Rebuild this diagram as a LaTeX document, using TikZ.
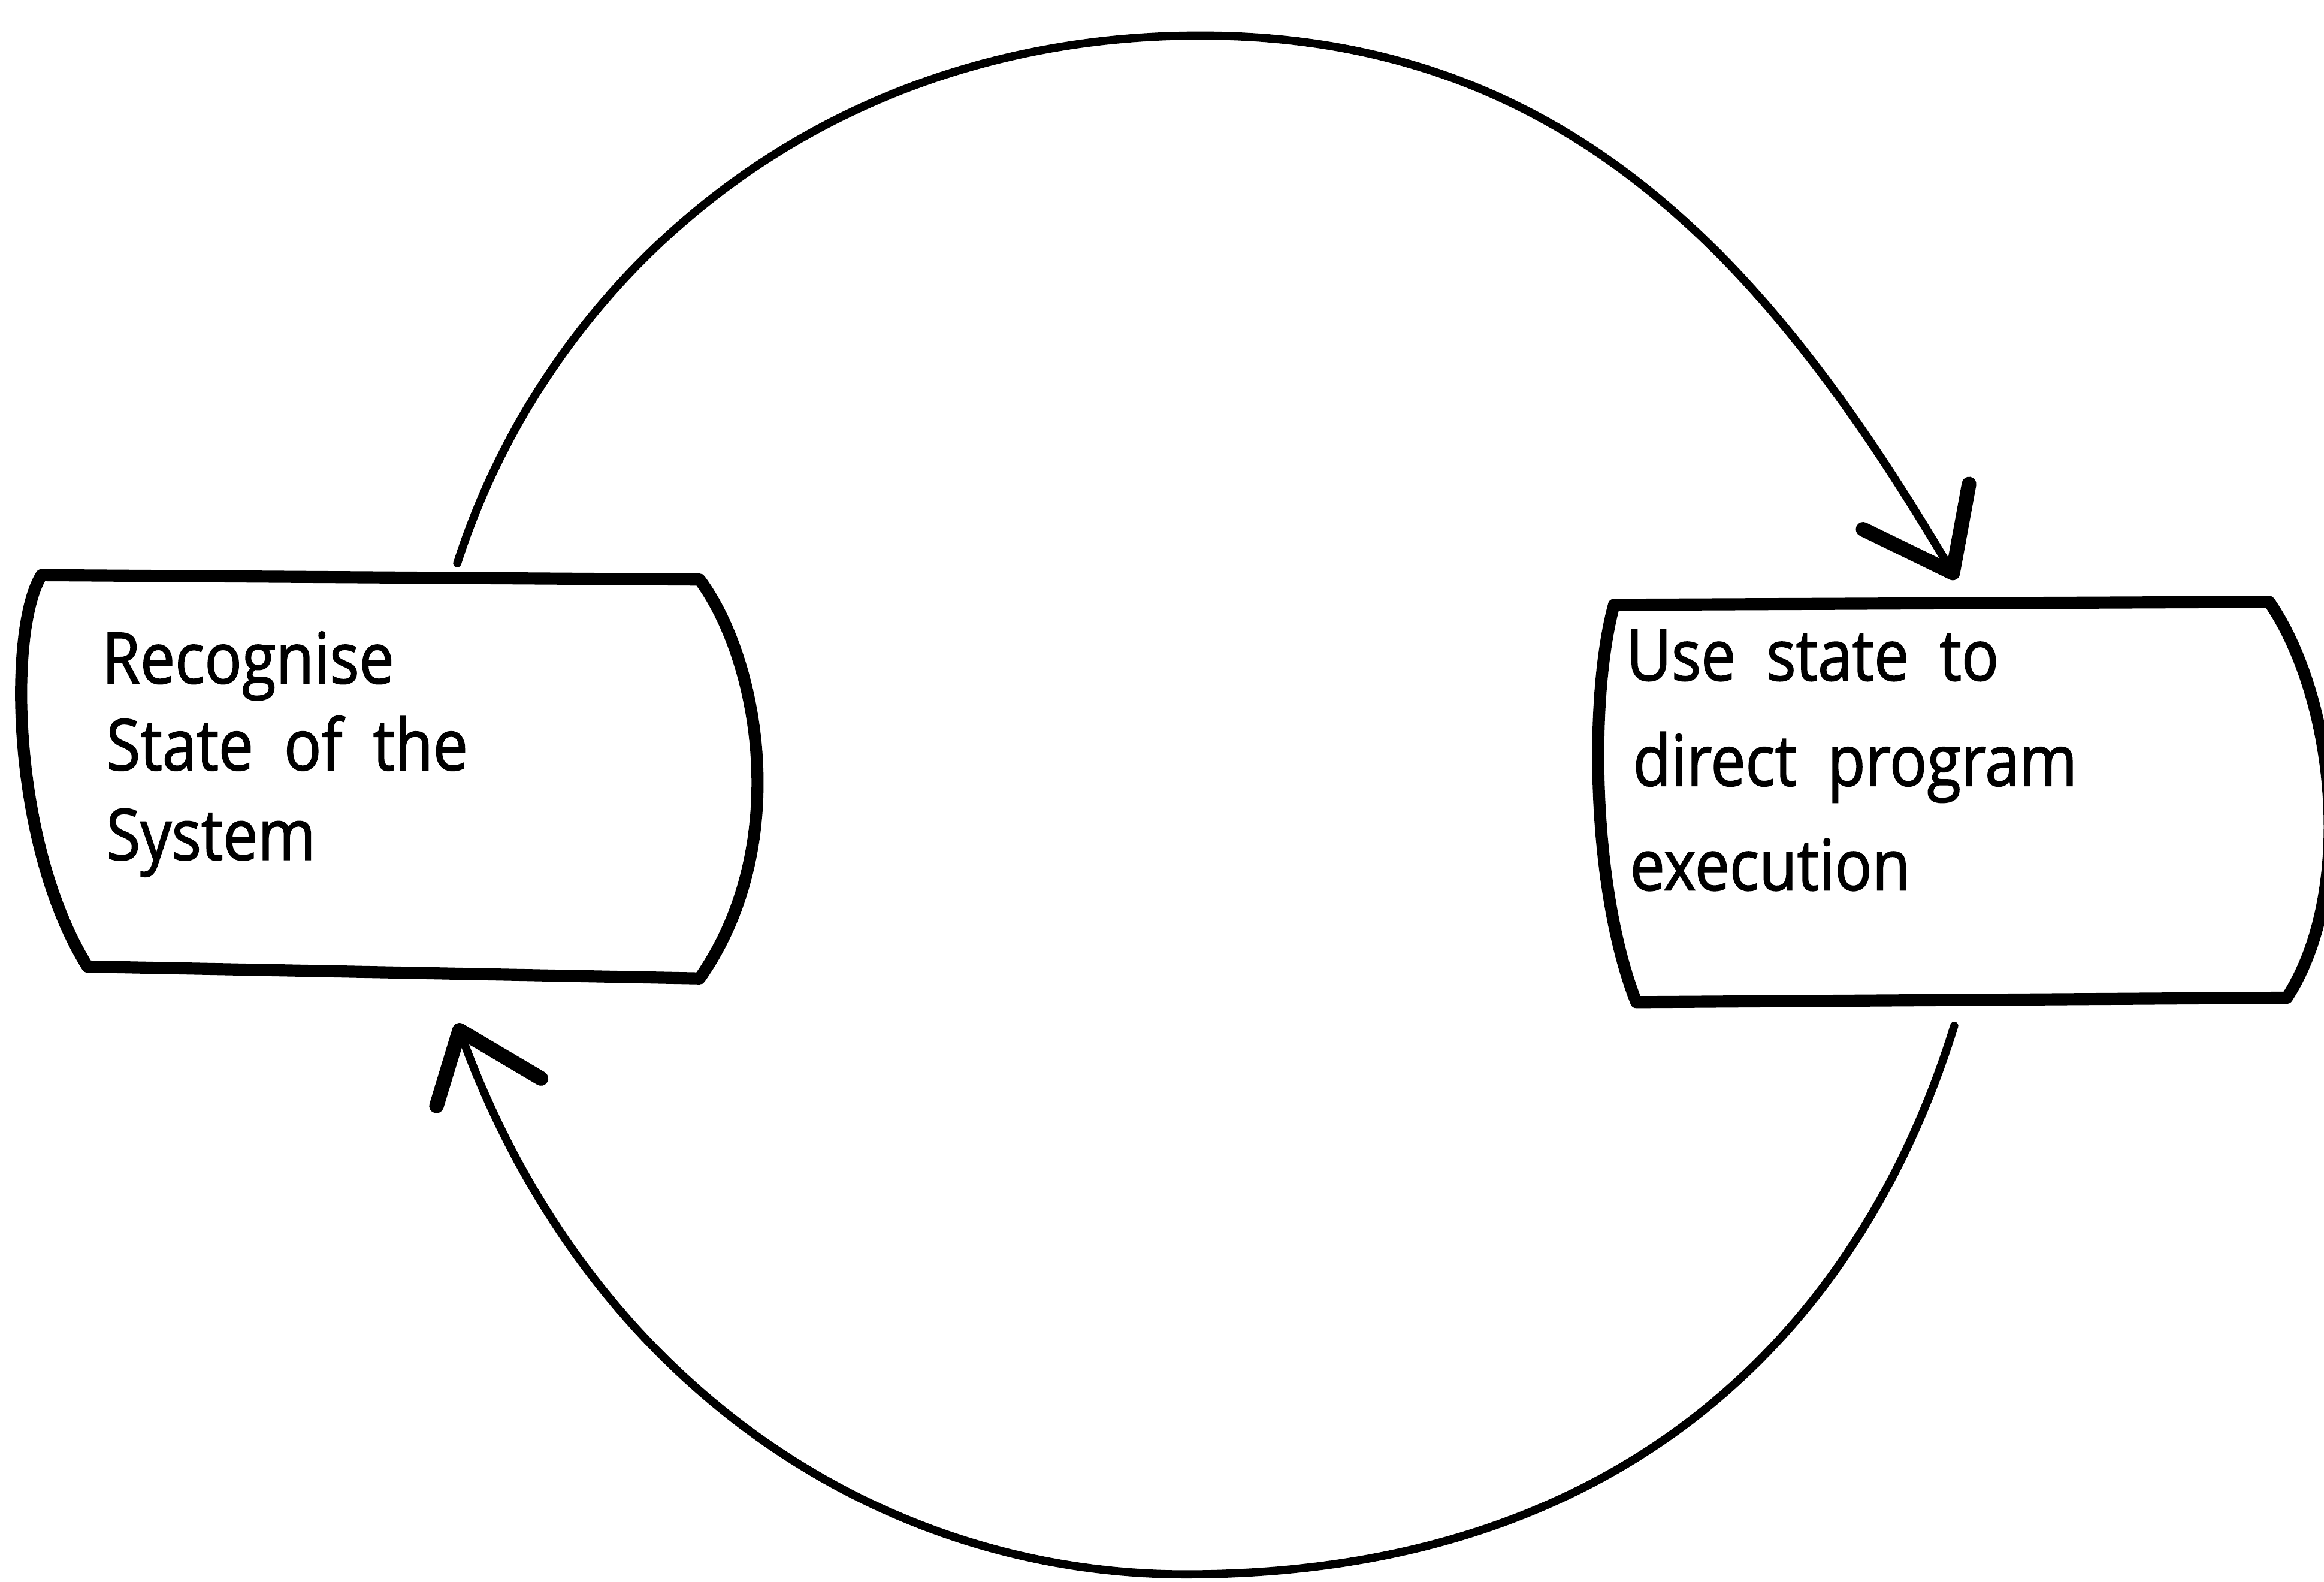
\documentclass[tikz,border=0pt]{standalone}
\usepackage{fontspec}
\newfontfamily\boxfont{Open Sans}[FakeStretch=0.875, FakeBold=1.5, WordSpace=1.9]
\begin{document}
\begin{tikzpicture}[x=0.25mm, y=-0.25mm,
  boxline/.style={line width=5.8pt, line join=round, line cap=round},
  arcline/.style={line width=3.9pt, line cap=round, line join=round},
  barb/.style={line width=7pt, line cap=round, line join=round},
  boxtext/.style={anchor=base west, inner sep=0pt,
    font=\boxfont\fontsize{34}{40}\selectfont}]

\useasboundingbox (0,0) rectangle (1568,1066.8);
\clip (0,0) rectangle (1568,1066.8);
\fill[white] (0,0) rectangle (1568,1066.8);

% left box: barrel-shaped outline
\coordinate (lTL) at (28,388);
\coordinate (lTR) at (472,391);
\coordinate (lBR) at (472,660);
\coordinate (lBL) at (59,652);
\draw[boxline] (lTL) -- (lTR)
  .. controls (512,445) and (535,570) .. (lBR) -- (lBL)
  .. controls (8,570) and (5,425) .. (lTL);

\node[boxtext] (l1) at (68.5,461) {Recognise};
\node[boxtext] (l2) at (71.5,519.5) {State of the};
\node[boxtext] (l3) at (71.5,580) {System};

% right box: its right side runs past the edge of the page
\coordinate (rTL) at (1089,408);
\coordinate (rTR) at (1531,406);
\coordinate (rBR) at (1543,673);
\coordinate (rBL) at (1104,676);
\draw[boxline] (rTL) -- (rTR)
  .. controls (1575,470) and (1590,600) .. (rBR) -- (rBL)
  .. controls (1074,600) and (1072,470) .. (rTL);

\node[boxtext] (r1) at (1097,459) {Use state to};
\node[boxtext] (r2) at (1101.5,530) {direct program};
\node[boxtext] (r3) at (1099.5,600.5) {execution};

% upper arc: from the left box over the top to the right box
\coordinate (upStart) at (308.5,380);
\coordinate (upTop) at (810,24);
\coordinate (upTip) at (1317.5,386.5);
\draw[arcline] (upStart)
  .. controls (369.5,189.2) and (550,24) .. (upTop)
  .. controls (1065,24) and (1200.7,188.5) .. (upTip);
\draw[barb] (1257,357) -- (upTip) -- (1328.5,326.5);

% lower arc: from the right box under the bottom back to the left box
\coordinate (lowStart) at (1318.5,692);
\coordinate (lowBottom) at (800,1062);
\coordinate (lowTip) at (310,695);
\draw[arcline] (lowStart)
  .. controls (1255,897.3) and (1095,1062) .. (lowBottom)
  .. controls (590,1062) and (394.25,930.25) .. (lowTip);
\draw[barb] (294.5,746) -- (lowTip) -- (365,727.5);

\end{tikzpicture}
\end{document}
